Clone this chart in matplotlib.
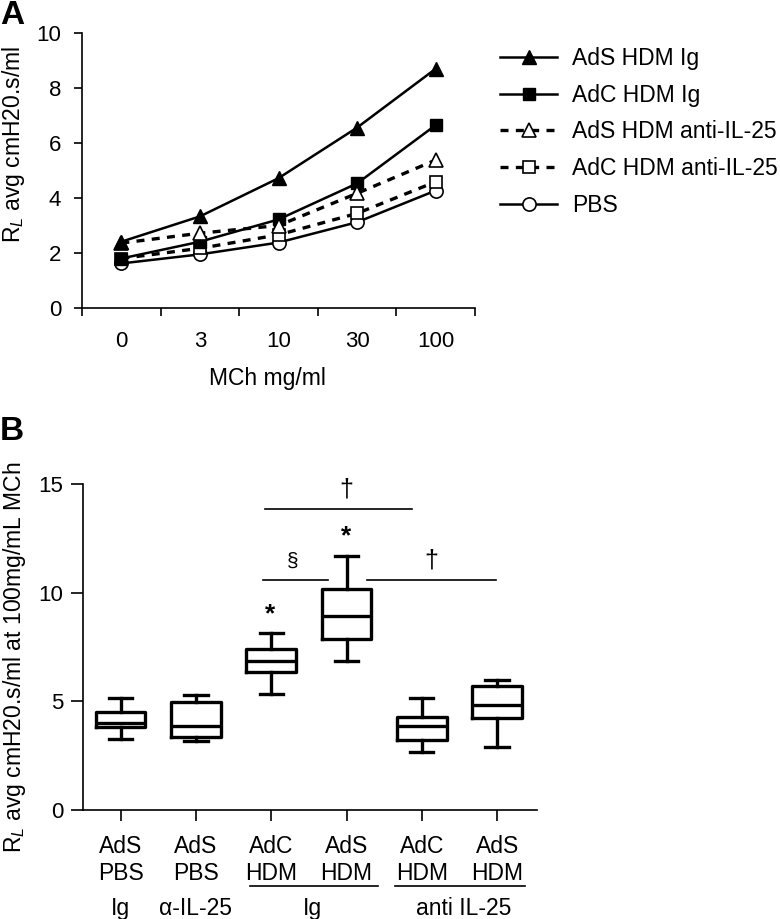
import matplotlib
matplotlib.use('Agg')
import matplotlib.pyplot as plt
from matplotlib import transforms

plt.rcParams['font.family'] = ['Liberation Sans', 'DejaVu Sans']
plt.rcParams['mathtext.fontset'] = 'custom'
plt.rcParams['mathtext.rm'] = 'Liberation Sans'
plt.rcParams['mathtext.it'] = 'Liberation Sans:italic'

# Panel A: airway resistance vs methacholine dose
doses = ['0', '3', '10', '30', '100']
ads_hdm_ig = [2.41, 3.33, 4.72, 6.56, 8.70]
adc_hdm_ig = [1.80, 2.41, 3.22, 4.53, 6.65]
ads_hdm_anti = [2.36, 2.72, 3.00, 4.17, 5.38]
adc_hdm_anti = [1.80, 2.17, 2.66, 3.44, 4.59]
pbs = [1.62, 1.95, 2.38, 3.12, 4.27]

# Panel B: box stats at 100 mg/ml MCh
groups_top = ['AdS\nPBS', 'AdS\nPBS', 'AdC\nHDM', 'AdS\nHDM', 'AdC\nHDM', 'AdS\nHDM']
whis_lo = [3.26, 3.19, 5.35, 6.84, 2.69, 2.89]
q1 = [3.84, 3.38, 6.33, 7.87, 3.23, 4.22]
med = [4.00, 3.87, 6.87, 8.91, 3.87, 4.84]
q3 = [4.53, 4.99, 7.40, 10.17, 4.26, 5.71]
whis_hi = [5.15, 5.30, 8.14, 11.67, 5.15, 5.99]

W, H = 780, 919


def fx(px):
    return px / W


def fy(py):
    return 1 - py / H


fig = plt.figure(figsize=(7.8, 9.19), dpi=100)

# ---------------- Panel A ----------------
axA = fig.add_axes([fx(82), fy(308), fx(475) - fx(82), fy(33) - fy(308)])
xs = range(len(doses))
solid = dict(color='black', lw=1.8)
dash = dict(color='black', lw=2.4, linestyle=(0, (2.4, 2.2)))
axA.plot(xs, pbs, marker='o', ms=9.5, mfc='white', mec='black', mew=1.2,
         label='PBS', **solid)
axA.plot(xs, adc_hdm_anti, marker='s', ms=9, mfc='white', mec='black',
         mew=1.2, label='AdC HDM anti-IL-25', **dash)
axA.plot(xs, adc_hdm_ig, marker='s', ms=9, mfc='black', mec='black',
         label='AdC HDM Ig', **solid)
axA.plot(xs, ads_hdm_anti, marker='^', ms=10.5, mfc='white', mec='black',
         mew=1.2, label='AdS HDM anti-IL-25', **dash)
axA.plot(xs, ads_hdm_ig, marker='^', ms=10.5, mfc='black', mec='black',
         label='AdS HDM Ig', **solid)

axA.set_xlim(-0.5, 4.5)
axA.set_ylim(0, 10)
axA.set_yticks(range(0, 11, 2))
axA.set_xticks([i - 0.5 for i in range(6)])
axA.set_xticklabels([])
for i, d in enumerate(doses):
    axA.text(i, -1.22, d, ha='center', va='center', fontsize=16,
             transform=axA.transData)
axA.tick_params(axis='both', direction='out', length=6, width=1.2,
                labelsize=16, pad=9)
for s in ['top', 'right']:
    axA.spines[s].set_visible(False)
for s in ['left', 'bottom']:
    axA.spines[s].set_linewidth(1.2)

fig.text(fx(267), fy(378), 'MCh mg/ml', ha='center', va='center', fontsize=16.5)
fig.text(fx(14), fy(144), r'R$_{\mathit{L}}$ avg cmH20.s/ml', rotation=90,
         ha='center', va='center', fontsize=16.5)
fig.text(fx(0), fy(16), 'A', ha='left', va='center', fontsize=24,
         fontweight='bold')

handles, labels = axA.get_legend_handles_labels()
order = [4, 2, 3, 1, 0]
fig.legend([handles[i] for i in order], [labels[i] for i in order],
           loc='upper left', bbox_to_anchor=(fx(500), fy(47)),
           frameon=False, fontsize=16.5, handlelength=2.5,
           handletextpad=0.65, labelspacing=0.6, borderpad=0,
           borderaxespad=0)

# ---------------- Panel B ----------------
axB = fig.add_axes([fx(83), fy(810), fx(537) - fx(83), fy(484) - fy(810)])
stats = []
for i in range(len(groups_top)):
    stats.append(dict(whislo=whis_lo[i], q1=q1[i], med=med[i], q3=q3[i],
                      whishi=whis_hi[i], fliers=[]))
lw_box = 2.4
axB.bxp(stats, positions=range(1, 7), widths=0.66, showfliers=False,
        boxprops=dict(lw=lw_box, color='black'),
        medianprops=dict(lw=lw_box, color='black'),
        whiskerprops=dict(lw=lw_box, color='black'),
        capprops=dict(lw=lw_box, color='black'),
        capwidths=0.31)
axB.set_xlim(0.5, 6.53)
axB.set_ylim(0, 15)
axB.set_yticks([0, 5, 10, 15])
axB.set_xticks(range(1, 7))
axB.set_xticklabels(groups_top, fontsize=16.5, linespacing=1.2)
axB.tick_params(axis='y', direction='out', length=9, width=1.2,
                labelsize=16, pad=5)
axB.tick_params(axis='x', direction='out', length=8, width=1.2, pad=10)
for s in ['top', 'right']:
    axB.spines[s].set_visible(False)
for s in ['left', 'bottom']:
    axB.spines[s].set_linewidth(1.2)

# significance marks
axB.plot([2.92, 4.87], [13.86, 13.86], color='black', lw=1.2)
axB.text(4.0, 14.75, '\u2020', ha='center', va='center', fontsize=18)
axB.plot([2.89, 3.75], [10.6, 10.6], color='black', lw=1.2)
axB.text(3.29, 11.45, '\u00a7', ha='center', va='center', fontsize=15)
axB.plot([4.27, 5.99], [10.6, 10.6], color='black', lw=1.2)
axB.text(5.13, 11.5, '\u2020', ha='center', va='center', fontsize=18)
axB.text(2.98, 9.0, '*', ha='center', va='center', fontsize=19,
         fontweight='bold')
axB.text(4.0, 12.6, '*', ha='center', va='center', fontsize=19,
         fontweight='bold')

# group labels under the x axis
trB = transforms.blended_transform_factory(axB.transData, axB.transAxes)
for x0, x1 in [(2.72, 4.42), (4.64, 6.37)]:
    axB.plot([x0, x1], [-0.232, -0.232], color='black', lw=1.2,
             transform=trB, clip_on=False)
for x, lab in [(1, 'Ig'), (2, '\u03b1-IL-25'), (3.55, 'Ig'),
               (5.55, 'anti IL-25')]:
    axB.text(x, -0.322, lab, ha='center', va='baseline', fontsize=16.5,
             transform=trB)

fig.text(fx(15), fy(657),
         r'R$_{\mathit{L}}$ avg cmH20.s/ml at 100mg/mL MCh',
         rotation=90, ha='center', va='center', fontsize=16.5)
fig.text(fx(0), fy(432), 'B', ha='left', va='center', fontsize=24,
         fontweight='bold')

fig.savefig('out.png', dpi=100)
